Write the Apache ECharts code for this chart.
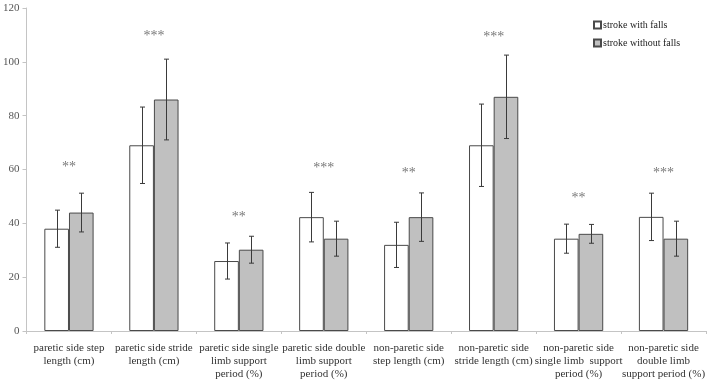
<!DOCTYPE html>
<html>
<head>
<meta charset="utf-8">
<script src="https://cdn.jsdelivr.net/npm/echarts@6/dist/echarts.min.js"></script>
<style>html,body{margin:0;padding:0;background:#fff}#c{width:708px;height:388px}</style>
</head>
<body>
<div id="c"></div>
<script>
var categories = [
  "paretic side step\nlength (cm)",
  "paretic side stride\nlength (cm)",
  "paretic side single\nlimb support\nperiod (%)",
  "paretic side double\nlimb support\nperiod (%)",
  "non-paretic side\nstep length (cm)",
  "non-paretic side\nstride length (cm)",
  "non-paretic side\nsingle limb  support\nperiod (%)",
  "non-paretic side\ndouble limb\nsupport period (%)"
];
var withFalls = [38, 69, 26, 42.3, 32, 69, 34.3, 42.4];
var withFallsSD = [6.9, 14.2, 6.7, 9.2, 8.4, 15.3, 5.4, 8.8];
var withoutFalls = [44, 86, 30.2, 34.3, 42.3, 87, 36.1, 34.3];
var withoutFallsSD = [7.2, 15, 5, 6.5, 9, 15.5, 3.5, 6.5];
var sigLabels = ["**", "***", "**", "***", "**", "***", "**", "***"];
var sigHeights = [60.7, 109.6, 42.4, 60.6, 58.7, 109, 49.4, 58.7];
var yTicks = [0, 20, 40, 60, 80, 100, 120];

var BW = 0.29;
function errData(vals, sds) {
  return vals.map(function (v, i) { return [i, v - sds[i], v + sds[i]]; });
}
function errSeries(vals, sds, side) {
  return {
    type: 'custom',
    z: 5,
    silent: true,
    data: errData(vals, sds),
    renderItem: function (params, api) {
      var band = api.size([1, 0])[0];
      var off = side * band * BW / 2;
      var lo = api.coord([api.value(0), api.value(1)]);
      var hi = api.coord([api.value(0), api.value(2)]);
      var x = Math.round(lo[0] + off) + 0.5;
      var cap = 2.5;
      var st = { stroke: '#3a3a3a', lineWidth: 1 };
      return {
        type: 'group',
        children: [
          { type: 'line', shape: { x1: x, y1: lo[1], x2: x, y2: hi[1] }, style: st },
          { type: 'line', shape: { x1: x - cap, y1: lo[1], x2: x + cap, y2: lo[1] }, style: st },
          { type: 'line', shape: { x1: x - cap, y1: hi[1], x2: x + cap, y2: hi[1] }, style: st }
        ]
      };
    }
  };
}

var chart = echarts.init(document.getElementById('c'), null, { renderer: 'canvas' });
var font = '"Liberation Serif", "DejaVu Serif", serif';
chart.setOption({
  animation: false,
  backgroundColor: '#ffffff',
  grid: { left: 25, right: 2, top: 8, bottom: 57, containLabel: false },
  legend: {
    orient: 'vertical',
    left: 588,
    top: 14,
    itemWidth: 7,
    itemHeight: 7,
    itemGap: 6,
    icon: 'rect',
    textStyle: { fontFamily: font, fontSize: 10, color: '#222', lineHeight: 12, padding: [0, 0, 0, -3] },
    data: ['stroke with falls', 'stroke without falls']
  },
  xAxis: {
    type: 'category',
    data: categories,
    axisLine: { lineStyle: { color: '#c4c4c4', width: 1 } },
    axisTick: { show: true, length: 3, lineStyle: { color: '#c4c4c4' } },
    axisLabel: { interval: 0, fontFamily: font, fontSize: 11, color: '#333', lineHeight: 13, margin: 11 }
  },
  yAxis: {
    type: 'value',
    min: yTicks[0],
    max: yTicks[yTicks.length - 1],
    interval: 20,
    splitLine: { show: false },
    axisLine: { show: true, lineStyle: { color: '#c4c4c4', width: 1 } },
    axisTick: { show: true, length: 4, lineStyle: { color: '#c4c4c4' } },
    axisLabel: { fontFamily: font, fontSize: 11, color: '#555', margin: 7 }
  },
  series: [
    {
      name: 'stroke with falls',
      type: 'bar',
      barWidth: (BW * 100) + '%',
      barGap: '0%',
      data: withFalls,
      itemStyle: { color: '#ffffff', borderColor: '#4a4a4a', borderWidth: 1 }
    },
    {
      name: 'stroke without falls',
      type: 'bar',
      barWidth: (BW * 100) + '%',
      barGap: '0%',
      data: withoutFalls,
      itemStyle: { color: '#c0c0c0', borderColor: '#4a4a4a', borderWidth: 1 }
    },
    errSeries(withFalls, withFallsSD, -1),
    errSeries(withoutFalls, withoutFallsSD, 1),
    {
      type: 'scatter',
      symbolSize: 0,
      silent: true,
      data: sigHeights.map(function (h, i) { return [i, h]; }),
      label: {
        show: true,
        position: 'inside',
        formatter: function (p) { return sigLabels[p.dataIndex]; },
        fontFamily: font,
        fontSize: 14,
        color: '#555'
      }
    }
  ]
});
</script>
</body>
</html>
